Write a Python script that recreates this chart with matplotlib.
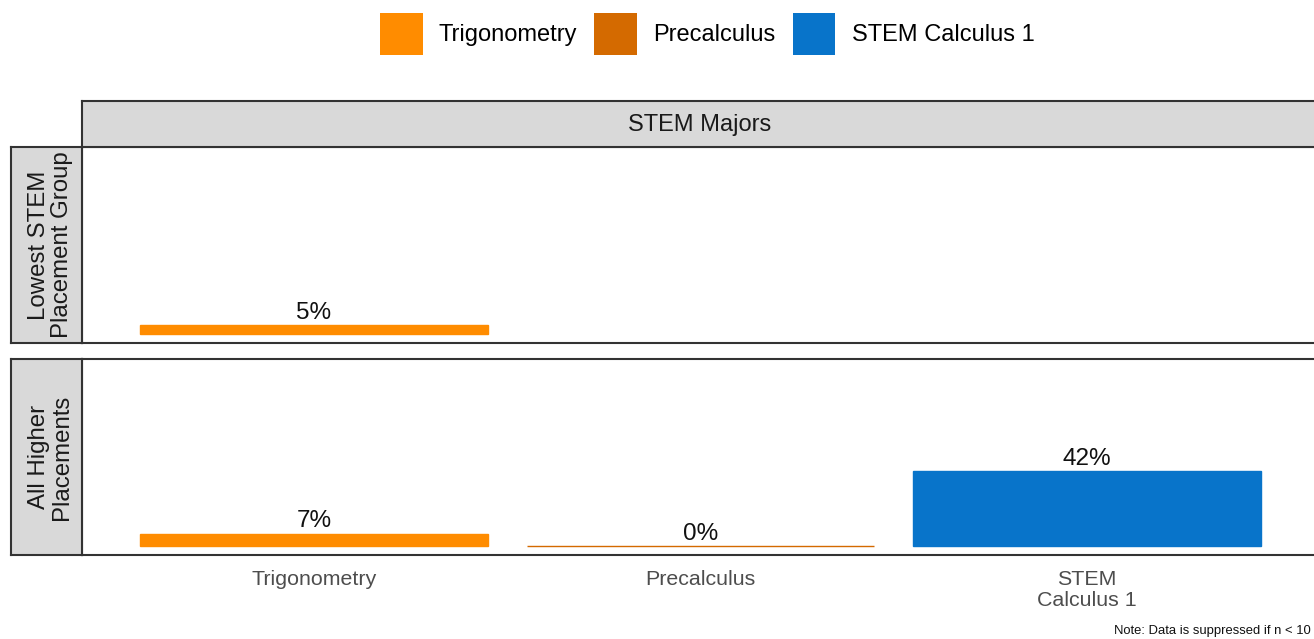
import numpy as np
import matplotlib.pyplot as plt
from matplotlib.patches import Patch

plt.rcParams['font.family'] = ['Liberation Sans', 'DejaVu Sans']

# data
courses = ["Trigonometry", "Precalculus", "STEM Calculus 1"]
tick_labels = ["Trigonometry", "Precalculus", "STEM\nCalculus 1"]
colors = ["#FF8C00", "#D46A00", "#0874CA"]
rows = ["Lowest STEM\nPlacement Group", "All Higher\nPlacements"]
# NaN = suppressed (n < 10)
lowest_vals = [5, np.nan, np.nan]
higher_vals = [7, 0, 42]
row_vals = [lowest_vals, higher_vals]

W, H = 1314, 639
fig = plt.figure(figsize=(W / 100, H / 100), dpi=100)

def fx(px):
    return px / W

def fy(py):
    return 1 - py / H

edge = "#333333"
strip_bg = "#D9D9D9"

panel_left, panel_right = 82, 1319
panel_tops = [147, 359]
panel_bots = [343, 555]

x = np.arange(len(courses))
for i, vals in enumerate(row_vals):
    ax = fig.add_axes([fx(panel_left), fy(panel_bots[i]),
                       fx(panel_right - panel_left), (panel_bots[i] - panel_tops[i]) / H])
    ax.set_xlim(-0.6, 2.6)
    ax.set_ylim(-5, 105)
    for s in ax.spines.values():
        s.set_color(edge)
        s.set_linewidth(1.5)
    ax.set_yticks([])
    ax.set_xticks(x)
    if i == 1:
        ax.set_xticklabels(tick_labels, fontsize=15.4, color="#4D4D4D", linespacing=1.12)
        ax.tick_params(axis="x", length=0, pad=11)
    else:
        ax.set_xticklabels([])
        ax.tick_params(axis="x", length=0)
    for j, v in enumerate(vals):
        if np.isnan(v):
            continue
        ax.bar(x[j], v, width=0.9, color=colors[j], edgecolor=colors[j], linewidth=1)
        ax.annotate(f"{v:.0f}%", (x[j], v), xytext=(0, 1), textcoords="offset points",
                    ha="center", va="bottom", fontsize=17.5, color="#111111")

    # row strip on the left
    sax = fig.add_axes([fx(11), fy(panel_bots[i]), fx(82 - 11), (panel_bots[i] - panel_tops[i]) / H])
    sax.set_facecolor(strip_bg)
    sax.set_xticks([])
    sax.set_yticks([])
    for s in sax.spines.values():
        s.set_color(edge)
        s.set_linewidth(1.5)
    sax.text(0.56, 0.5, rows[i], rotation=90, ha="center", va="center",
             fontsize=17.3, color="#1A1A1A", linespacing=1.05, transform=sax.transAxes)

# top strip
tax = fig.add_axes([fx(panel_left), fy(147), fx(panel_right - panel_left), (147 - 101) / H])
tax.set_facecolor(strip_bg)
tax.set_xticks([])
tax.set_yticks([])
for s in tax.spines.values():
    s.set_color(edge)
    s.set_linewidth(1.5)
tax.text((700 - panel_left) / (panel_right - panel_left), 0.47, "STEM Majors",
         ha="center", va="center", fontsize=17, color="#1A1A1A", transform=tax.transAxes)

handles = [Patch(facecolor=c, edgecolor="none") for c in colors]
fig.legend(handles, courses, loc="center", bbox_to_anchor=(fx(707), fy(34)), ncol=3,
           frameon=False, fontsize=17, handlelength=1.82, handleheight=2.3,
           handletextpad=0.68, columnspacing=0.72)

fig.text(fx(1311), fy(631), "Note: Data is suppressed if n < 10", ha="right", va="center",
         fontsize=9.4, color="#111111")

fig.savefig("out.png", dpi=100)
